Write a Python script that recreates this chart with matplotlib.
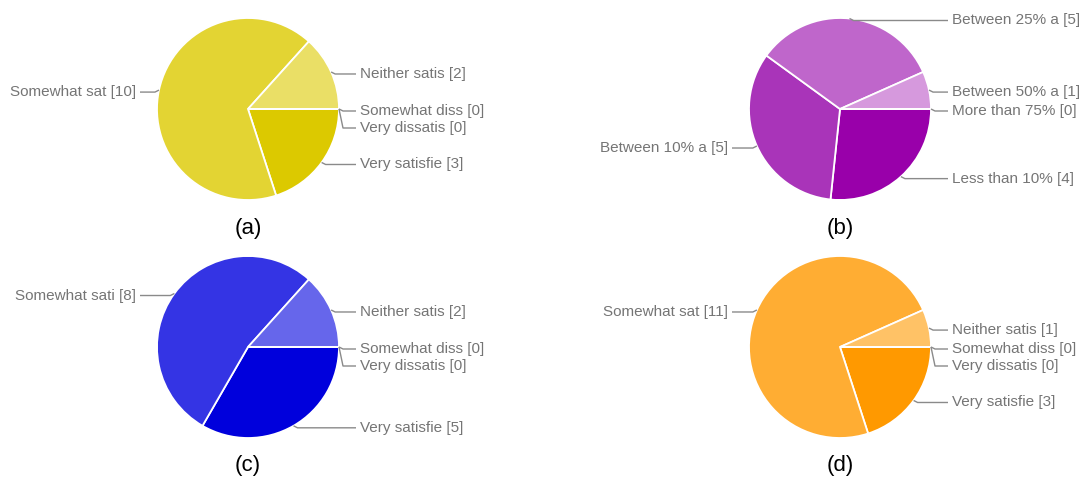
import matplotlib
matplotlib.use("Agg")
from matplotlib import pyplot as plt
import numpy as np

plt.rcParams["font.family"] = ["Liberation Sans", "DejaVu Sans"]

# ------------------------------------------------------------------------ DATA
names_a = ["Very satisfie", "Somewhat sat", "Neither satis", "Somewhat diss", "Very dissatis"]
counts_a = [3, 10, 2, 0, 0]
colors_a = ["#dcc900", "#e3d433", "#eadf66", "#f1e999", "#f8f4cc"]

names_b = ["Less than 10%", "Between 10% a", "Between 25% a", "Between 50% a", "More than 75%"]
counts_b = [4, 5, 5, 1, 0]
colors_b = ["#9900aa", "#a934b9", "#bf66cb", "#d699dd", "#ebccee"]

names_c = ["Very satisfie", "Somewhat sati", "Neither satis", "Somewhat diss", "Very dissatis"]
counts_c = [5, 8, 2, 0, 0]
colors_c = ["#0000dc", "#3434e4", "#6666eb", "#9999f1", "#ccccf8"]

names_d = ["Very satisfie", "Somewhat sat", "Neither satis", "Somewhat diss", "Very dissatis"]
counts_d = [3, 11, 1, 0, 0]
colors_d = ["#ff9900", "#ffad33", "#ffc266", "#ffd699", "#ffebcc"]

captions = ["(a)", "(b)", "(c)", "(d)"]

# ---------------------------------------------------------------------- LAYOUT
W, H = 1081, 478
R = 91
text_gap = 112
label_color = "#757575"
line_color = "#8a8a8a"


def draw_pie(ax, cx, cy_px, names, counts, colors, caption, cap_y_px):
    cy = H - cy_px
    wedges, _ = ax.pie(
        counts,
        colors=colors,
        startangle=0,
        counterclock=False,
        radius=R,
        center=(cx, cy),
        wedgeprops=dict(edgecolor="white", linewidth=1.3),
    )

    # anchor points on the rim at the middle of every slice
    right, left = [], []
    for i, w in enumerate(wedges):
        mid = np.deg2rad((w.theta1 + w.theta2) / 2)
        px, py = cx + R * np.cos(mid), cy + R * np.sin(mid)
        item = (i, px, py)
        if np.cos(mid) >= -1e-9:
            right.append(item)
        else:
            left.append(item)

    for side, items in ((1, right), (-1, left)):
        items.sort(key=lambda t: (-round(t[2], 3), t[0]))
        prev = None
        for i, px, py in items:
            ly = py - 2
            if prev is not None:
                ly = min(ly, prev - 17)
            prev = ly
            tx = cx + side * text_gap
            ax.plot(
                [px, px + 4 * side, tx - 4 * side],
                [py, ly, ly],
                color=line_color,
                lw=1,
                solid_capstyle="butt",
            )
            ax.text(
                tx,
                ly,
                f"{names[i]} [{counts[i]}]",
                ha="left" if side == 1 else "right",
                va="center",
                fontsize=11,
                color=label_color,
            )

    ax.text(cx, H - cap_y_px, caption, ha="center", va="center", fontsize=16, color="black")


# ---------------------------------------------------------------------- Figure
fig = plt.figure(figsize=(W / 100, H / 100), dpi=100)
ax = fig.add_axes([0, 0, 1, 1])

draw_pie(ax, 248, 109, names_a, counts_a, colors_a, captions[0], 228)
draw_pie(ax, 840, 109, names_b, counts_b, colors_b, captions[1], 228)
draw_pie(ax, 248, 347, names_c, counts_c, colors_c, captions[2], 465)
draw_pie(ax, 840, 347, names_d, counts_d, colors_d, captions[3], 465)

ax.set_xlim(0, W)
ax.set_ylim(0, H)
ax.set_aspect("auto")
ax.axis("off")

fig.savefig("out.png", dpi=100, facecolor="white")
